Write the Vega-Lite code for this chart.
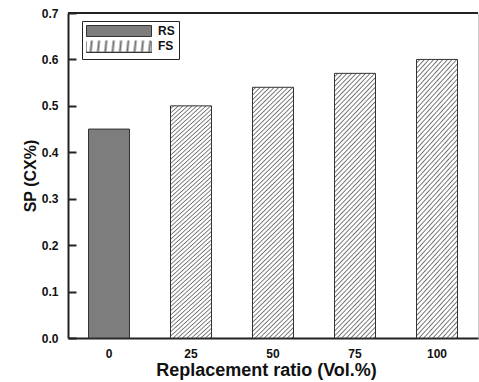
{
  "$schema": "https://vega.github.io/schema/vega-lite/v6.json",
  "width": 410,
  "height": 325,
  "autosize": "none",
  "padding": {"left": 68, "top": 13, "right": 1, "bottom": 44},
  "config": {
    "font": "Liberation Sans",
    "view": {"stroke": "#c8c8c8", "strokeWidth": 1},
    "axisX": {"labelAngle": 0, "ticks": false, "grid": false, "domainColor": "#222", "domainWidth": 2,
      "labelFontSize": 12, "labelFontWeight": "bold", "labelColor": "#111", "labelPadding": 10,
      "titleFontSize": 18, "titleFontWeight": "bold", "titleColor": "#111", "titlePadding": 2, "titleX": 198},
    "axisY": {"grid": false, "tickSize": -8, "tickColor": "#222", "tickWidth": 2, "zindex": 1,
      "domainColor": "#222", "domainWidth": 2,
      "labelFontSize": 12, "labelFontWeight": "bold", "labelColor": "#111", "labelPadding": 18,
      "titleFontSize": 16, "titleFontWeight": "bold", "titleColor": "#111", "titlePadding": 3},
    "legend": {"orient": "none", "padding": 4, "symbolType": "M-1,-1H10.82V1H-1Z", "symbolSize": 121,
      "symbolStrokeWidth": 1, "symbolStrokeColor": "#333", "labelOffset": 60,
      "labelFontSize": 12, "labelFontWeight": "bold", "labelColor": "#111", "rowPadding": 0}
  },
  "data": {"values": [
    {"ratio": "0", "sp": 0.45, "type": "RS"},
    {"ratio": "25", "sp": 0.50, "type": "FS"},
    {"ratio": "50", "sp": 0.54, "type": "FS"},
    {"ratio": "75", "sp": 0.57, "type": "FS"},
    {"ratio": "100", "sp": 0.60, "type": "FS"}
  ]},
  "layer": [
    {
      "transform": [{"filter": "datum.type === 'RS'"}],
      "mark": {"type": "bar", "fill": "#7d7d7d", "stroke": "#333", "strokeWidth": 1},
      "encoding": {
        "x": {"field": "ratio", "type": "ordinal",
          "scale": {"domain": ["0", "25", "50", "75", "100"], "paddingInner": 0.5, "paddingOuter": 0.25},
          "axis": {"title": "Replacement ratio (Vol.%)"}},
        "y": {"field": "sp", "type": "quantitative",
          "scale": {"domain": [0, 0.7]},
          "axis": {"title": "SP (CX%)", "values": [0, 0.1, 0.2, 0.3, 0.4, 0.5, 0.6, 0.7], "format": ".1f"}},
        "stroke": {"field": "type", "type": "nominal",
          "scale": {"domain": ["RS", "FS"], "range": ["#333", "#333"]},
          "legend": {"legendX": 14, "legendY": 8, "title": null, "strokeColor": "#222", "fillColor": "#fff",
            "labelExpr": "datum.label === 'FS' ? '' : datum.label", "zindex": 0}}
      }
    },
    {
      "transform": [{"filter": "datum.type === 'FS'"}],
      "mark": {"type": "bar", "stroke": "#333", "strokeWidth": 1, "fill": {"gradient": "linear", "x1": 0, "y1": 0, "x2": 0.182, "y2": 1.131, "stops": [
            {"offset": 0, "color": "#fff"}, {"offset": 0.007, "color": "#fff"}, {"offset": 0.0113, "color": "#707070"},
            {"offset": 0.0156, "color": "#fff"}, {"offset": 0.0226, "color": "#fff"}, {"offset": 0.0269, "color": "#707070"},
            {"offset": 0.0313, "color": "#fff"}, {"offset": 0.0383, "color": "#fff"}, {"offset": 0.0426, "color": "#707070"},
            {"offset": 0.0469, "color": "#fff"}, {"offset": 0.0539, "color": "#fff"}, {"offset": 0.0582, "color": "#707070"},
            {"offset": 0.0625, "color": "#fff"}, {"offset": 0.0695, "color": "#fff"}, {"offset": 0.0738, "color": "#707070"},
            {"offset": 0.0781, "color": "#fff"}, {"offset": 0.0851, "color": "#fff"}, {"offset": 0.0894, "color": "#707070"},
            {"offset": 0.0938, "color": "#fff"}, {"offset": 0.1008, "color": "#fff"}, {"offset": 0.1051, "color": "#707070"},
            {"offset": 0.1094, "color": "#fff"}, {"offset": 0.1164, "color": "#fff"}, {"offset": 0.1207, "color": "#707070"},
            {"offset": 0.125, "color": "#fff"}, {"offset": 0.132, "color": "#fff"}, {"offset": 0.1363, "color": "#707070"},
            {"offset": 0.1406, "color": "#fff"}, {"offset": 0.1476, "color": "#fff"}, {"offset": 0.1519, "color": "#707070"},
            {"offset": 0.1563, "color": "#fff"}, {"offset": 0.1633, "color": "#fff"}, {"offset": 0.1676, "color": "#707070"},
            {"offset": 0.1719, "color": "#fff"}, {"offset": 0.1789, "color": "#fff"}, {"offset": 0.1832, "color": "#707070"},
            {"offset": 0.1875, "color": "#fff"}, {"offset": 0.1945, "color": "#fff"}, {"offset": 0.1988, "color": "#707070"},
            {"offset": 0.2031, "color": "#fff"}, {"offset": 0.2101, "color": "#fff"}, {"offset": 0.2144, "color": "#707070"},
            {"offset": 0.2188, "color": "#fff"}, {"offset": 0.2258, "color": "#fff"}, {"offset": 0.2301, "color": "#707070"},
            {"offset": 0.2344, "color": "#fff"}, {"offset": 0.2414, "color": "#fff"}, {"offset": 0.2457, "color": "#707070"},
            {"offset": 0.25, "color": "#fff"}, {"offset": 0.257, "color": "#fff"}, {"offset": 0.2613, "color": "#707070"},
            {"offset": 0.2656, "color": "#fff"}, {"offset": 0.2726, "color": "#fff"}, {"offset": 0.2769, "color": "#707070"},
            {"offset": 0.2813, "color": "#fff"}, {"offset": 0.2883, "color": "#fff"}, {"offset": 0.2926, "color": "#707070"},
            {"offset": 0.2969, "color": "#fff"}, {"offset": 0.3039, "color": "#fff"}, {"offset": 0.3082, "color": "#707070"},
            {"offset": 0.3125, "color": "#fff"}, {"offset": 0.3195, "color": "#fff"}, {"offset": 0.3238, "color": "#707070"},
            {"offset": 0.3281, "color": "#fff"}, {"offset": 0.3351, "color": "#fff"}, {"offset": 0.3394, "color": "#707070"},
            {"offset": 0.3438, "color": "#fff"}, {"offset": 0.3508, "color": "#fff"}, {"offset": 0.3551, "color": "#707070"},
            {"offset": 0.3594, "color": "#fff"}, {"offset": 0.3664, "color": "#fff"}, {"offset": 0.3707, "color": "#707070"},
            {"offset": 0.375, "color": "#fff"}, {"offset": 0.382, "color": "#fff"}, {"offset": 0.3863, "color": "#707070"},
            {"offset": 0.3906, "color": "#fff"}, {"offset": 0.3976, "color": "#fff"}, {"offset": 0.4019, "color": "#707070"},
            {"offset": 0.4063, "color": "#fff"}, {"offset": 0.4133, "color": "#fff"}, {"offset": 0.4176, "color": "#707070"},
            {"offset": 0.4219, "color": "#fff"}, {"offset": 0.4289, "color": "#fff"}, {"offset": 0.4332, "color": "#707070"},
            {"offset": 0.4375, "color": "#fff"}, {"offset": 0.4445, "color": "#fff"}, {"offset": 0.4488, "color": "#707070"},
            {"offset": 0.4531, "color": "#fff"}, {"offset": 0.4601, "color": "#fff"}, {"offset": 0.4644, "color": "#707070"},
            {"offset": 0.4688, "color": "#fff"}, {"offset": 0.4758, "color": "#fff"}, {"offset": 0.4801, "color": "#707070"},
            {"offset": 0.4844, "color": "#fff"}, {"offset": 0.4914, "color": "#fff"}, {"offset": 0.4957, "color": "#707070"},
            {"offset": 0.5, "color": "#fff"}, {"offset": 0.507, "color": "#fff"}, {"offset": 0.5113, "color": "#707070"},
            {"offset": 0.5156, "color": "#fff"}, {"offset": 0.5226, "color": "#fff"}, {"offset": 0.5269, "color": "#707070"},
            {"offset": 0.5313, "color": "#fff"}, {"offset": 0.5383, "color": "#fff"}, {"offset": 0.5426, "color": "#707070"},
            {"offset": 0.5469, "color": "#fff"}, {"offset": 0.5539, "color": "#fff"}, {"offset": 0.5582, "color": "#707070"},
            {"offset": 0.5625, "color": "#fff"}, {"offset": 0.5695, "color": "#fff"}, {"offset": 0.5738, "color": "#707070"},
            {"offset": 0.5781, "color": "#fff"}, {"offset": 0.5851, "color": "#fff"}, {"offset": 0.5894, "color": "#707070"},
            {"offset": 0.5938, "color": "#fff"}, {"offset": 0.6008, "color": "#fff"}, {"offset": 0.6051, "color": "#707070"},
            {"offset": 0.6094, "color": "#fff"}, {"offset": 0.6164, "color": "#fff"}, {"offset": 0.6207, "color": "#707070"},
            {"offset": 0.625, "color": "#fff"}, {"offset": 0.632, "color": "#fff"}, {"offset": 0.6363, "color": "#707070"},
            {"offset": 0.6406, "color": "#fff"}, {"offset": 0.6476, "color": "#fff"}, {"offset": 0.6519, "color": "#707070"},
            {"offset": 0.6563, "color": "#fff"}, {"offset": 0.6633, "color": "#fff"}, {"offset": 0.6676, "color": "#707070"},
            {"offset": 0.6719, "color": "#fff"}, {"offset": 0.6789, "color": "#fff"}, {"offset": 0.6832, "color": "#707070"},
            {"offset": 0.6875, "color": "#fff"}, {"offset": 0.6945, "color": "#fff"}, {"offset": 0.6988, "color": "#707070"},
            {"offset": 0.7031, "color": "#fff"}, {"offset": 0.7101, "color": "#fff"}, {"offset": 0.7144, "color": "#707070"},
            {"offset": 0.7188, "color": "#fff"}, {"offset": 0.7258, "color": "#fff"}, {"offset": 0.7301, "color": "#707070"},
            {"offset": 0.7344, "color": "#fff"}, {"offset": 0.7414, "color": "#fff"}, {"offset": 0.7457, "color": "#707070"},
            {"offset": 0.75, "color": "#fff"}, {"offset": 0.757, "color": "#fff"}, {"offset": 0.7613, "color": "#707070"},
            {"offset": 0.7656, "color": "#fff"}, {"offset": 0.7726, "color": "#fff"}, {"offset": 0.7769, "color": "#707070"},
            {"offset": 0.7813, "color": "#fff"}, {"offset": 0.7883, "color": "#fff"}, {"offset": 0.7926, "color": "#707070"},
            {"offset": 0.7969, "color": "#fff"}, {"offset": 0.8039, "color": "#fff"}, {"offset": 0.8082, "color": "#707070"},
            {"offset": 0.8125, "color": "#fff"}, {"offset": 0.8195, "color": "#fff"}, {"offset": 0.8238, "color": "#707070"},
            {"offset": 0.8281, "color": "#fff"}, {"offset": 0.8351, "color": "#fff"}, {"offset": 0.8394, "color": "#707070"},
            {"offset": 0.8438, "color": "#fff"}, {"offset": 0.8508, "color": "#fff"}, {"offset": 0.8551, "color": "#707070"},
            {"offset": 0.8594, "color": "#fff"}, {"offset": 0.8664, "color": "#fff"}, {"offset": 0.8707, "color": "#707070"},
            {"offset": 0.875, "color": "#fff"}, {"offset": 0.882, "color": "#fff"}, {"offset": 0.8863, "color": "#707070"},
            {"offset": 0.8906, "color": "#fff"}, {"offset": 0.8976, "color": "#fff"}, {"offset": 0.9019, "color": "#707070"},
            {"offset": 0.9063, "color": "#fff"}, {"offset": 0.9133, "color": "#fff"}, {"offset": 0.9176, "color": "#707070"},
            {"offset": 0.9219, "color": "#fff"}, {"offset": 0.9289, "color": "#fff"}, {"offset": 0.9332, "color": "#707070"},
            {"offset": 0.9375, "color": "#fff"}, {"offset": 0.9445, "color": "#fff"}, {"offset": 0.9488, "color": "#707070"},
            {"offset": 0.9531, "color": "#fff"}, {"offset": 0.9601, "color": "#fff"}, {"offset": 0.9644, "color": "#707070"},
            {"offset": 0.9688, "color": "#fff"}, {"offset": 0.9758, "color": "#fff"}, {"offset": 0.9801, "color": "#707070"},
            {"offset": 0.9844, "color": "#fff"}, {"offset": 0.9914, "color": "#fff"}, {"offset": 0.9957, "color": "#707070"},
            {"offset": 1, "color": "#fff"}
          ]}},
      "encoding": {
        "x": {"field": "ratio", "type": "ordinal"},
        "y": {"field": "sp", "type": "quantitative"},
        "opacity": {"field": "type", "type": "nominal",
          "scale": {"type": "ordinal", "domain": ["FS"], "range": [1]},
          "legend": {"legendX": 14, "legendY": 23, "title": null, "zindex": 1,
            "encode": {"symbols": {"fill": {"value": {"gradient": "linear", "x1": 0, "y1": 0, "x2": 1.1367, "y2": 0.1924, "stops": [
                  {"offset": 0, "color": "#fff"}, {"offset": 0.0281, "color": "#fff"}, {"offset": 0.045, "color": "#707070"},
                  {"offset": 0.0625, "color": "#fff"}, {"offset": 0.0906, "color": "#fff"}, {"offset": 0.1075, "color": "#707070"},
                  {"offset": 0.125, "color": "#fff"}, {"offset": 0.1531, "color": "#fff"}, {"offset": 0.17, "color": "#707070"},
                  {"offset": 0.1875, "color": "#fff"}, {"offset": 0.2156, "color": "#fff"}, {"offset": 0.2325, "color": "#707070"},
                  {"offset": 0.25, "color": "#fff"}, {"offset": 0.2781, "color": "#fff"}, {"offset": 0.295, "color": "#707070"},
                  {"offset": 0.3125, "color": "#fff"}, {"offset": 0.3406, "color": "#fff"}, {"offset": 0.3575, "color": "#707070"},
                  {"offset": 0.375, "color": "#fff"}, {"offset": 0.4031, "color": "#fff"}, {"offset": 0.42, "color": "#707070"},
                  {"offset": 0.4375, "color": "#fff"}, {"offset": 0.4656, "color": "#fff"}, {"offset": 0.4825, "color": "#707070"},
                  {"offset": 0.5, "color": "#fff"}, {"offset": 0.5281, "color": "#fff"}, {"offset": 0.545, "color": "#707070"},
                  {"offset": 0.5625, "color": "#fff"}, {"offset": 0.5906, "color": "#fff"}, {"offset": 0.6075, "color": "#707070"},
                  {"offset": 0.625, "color": "#fff"}, {"offset": 0.6531, "color": "#fff"}, {"offset": 0.67, "color": "#707070"},
                  {"offset": 0.6875, "color": "#fff"}, {"offset": 0.7156, "color": "#fff"}, {"offset": 0.7325, "color": "#707070"},
                  {"offset": 0.75, "color": "#fff"}, {"offset": 0.7781, "color": "#fff"}, {"offset": 0.795, "color": "#707070"},
                  {"offset": 0.8125, "color": "#fff"}, {"offset": 0.8406, "color": "#fff"}, {"offset": 0.8575, "color": "#707070"},
                  {"offset": 0.875, "color": "#fff"}, {"offset": 0.9031, "color": "#fff"}, {"offset": 0.92, "color": "#707070"},
                  {"offset": 0.9375, "color": "#fff"}, {"offset": 0.9656, "color": "#fff"}, {"offset": 0.9825, "color": "#707070"},
                  {"offset": 1, "color": "#fff"}
                ]}}}}}}
      }
    },
    {
      "data": {"values": [{"edge": "top"}]},
      "mark": {"type": "rule", "stroke": "#222", "strokeWidth": 2},
      "encoding": {"y": {"datum": 0.7}}
    }
  ]
}
